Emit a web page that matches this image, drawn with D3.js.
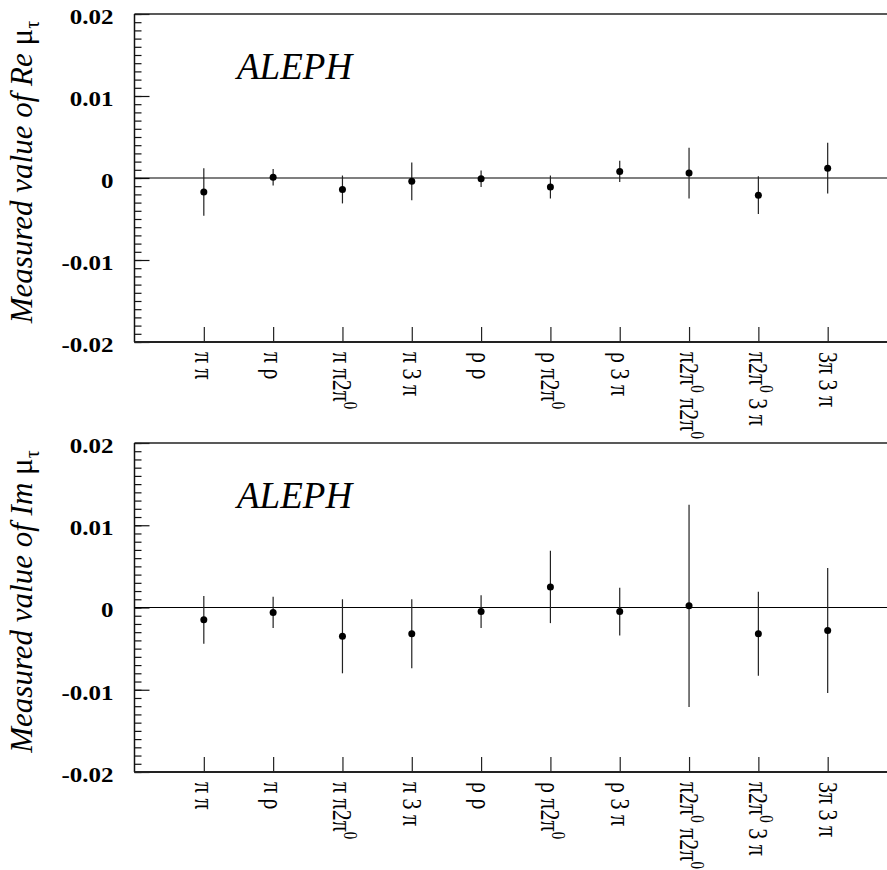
<!DOCTYPE html>
<html><head><meta charset="utf-8">
<script src="https://cdn.jsdelivr.net/npm/d3@7"></script>
<style>body{margin:0;background:#fff}svg{display:block}</style>
</head><body><svg id="c" width="887" height="870"></svg>
<script>
// ---- data ----
const categories = ["π π","π ρ","π π2π^0","π 3 π","ρ ρ","ρ π2π^0","ρ 3 π","π2π^0 π2π^0","π2π^0 3 π","3π 3 π"];
const reValues = [-0.0017, 0.0001, -0.0014, -0.0004, -0.0001, -0.0011, 0.0008, 0.0006, -0.0021, 0.0012];
const reErrors = [0.0029, 0.0010, 0.0017, 0.0023, 0.0010, 0.0014, 0.0013, 0.0031, 0.0023, 0.0031];
const imValues = [-0.0015, -0.0006, -0.0035, -0.0032, -0.0005, 0.0025, -0.0005, 0.0002, -0.0032, -0.0028];
const imErrors = [0.0029, 0.0019, 0.0045, 0.0042, 0.0020, 0.0044, 0.0029, 0.0123, 0.0051, 0.0076];
const majorTicks = [-0.02, -0.01, 0, 0.01, 0.02];
const tickLabels = ["-0.02", "-0.01", "0", "0.01", "0.02"];
const yDomain = [-0.02, 0.02];
const panelTitles = ["Re", "Im"];
const experiment = "ALEPH";

const svg = d3.select("#c");
const serif = "'Liberation Serif','Times New Roman',serif";
const left = 134.5, right = 897;
const x = d3.scalePoint().domain(categories).range([left, right]).padding(1);
const minorTicks = d3.range(-20, 21).map(d => d / 1000);

const panels = [
  {vals: reValues, errs: reErrors, top: 14, bottom: 342, title: panelTitles[0]},
  {vals: imValues, errs: imErrors, top: 443, bottom: 772, title: panelTitles[1]}
];

panels.forEach(p => {
  const y = d3.scaleLinear().domain(yDomain).range([p.bottom, p.top]);
  const g = svg.append("g");

  // minor ticks
  g.append("g").attr("transform", `translate(${left},0)`)
    .call(d3.axisLeft(y).tickValues(minorTicks).tickSize(-7).tickSizeOuter(0).tickFormat(""))
    .call(s => s.select(".domain").remove())
    .call(s => s.selectAll("line").attr("stroke", "#111").attr("stroke-width", 1.2));

  // major ticks + labels
  const ya = g.append("g").attr("transform", `translate(${left},0)`)
    .call(d3.axisLeft(y).tickValues(majorTicks).tickSize(-15).tickSizeOuter(0).tickPadding(21)
      .tickFormat((d, i) => tickLabels[i]))
    .call(s => s.select(".domain").remove())
    .call(s => s.selectAll("line").attr("stroke", "#111").attr("stroke-width", 1.2));
  ya.selectAll("text")
    .attr("font-family", serif).attr("font-weight", "bold").attr("font-size", 21)
    .attr("fill", "#000").attr("dy", "0.45em")
    .each(function() {
      const t = d3.select(this); const tx = +t.attr("x");
      t.attr("x", 0).attr("transform", `translate(${tx},0) scale(1.19,1)`);
    });

  // bottom ticks (upward)
  g.append("g").attr("transform", `translate(0,${p.bottom})`)
    .call(d3.axisBottom(x).tickSize(-15).tickSizeOuter(0).tickFormat(""))
    .call(s => s.select(".domain").remove())
    .call(s => s.selectAll("line").attr("stroke", "#222").attr("stroke-width", 1.2));

  // frame
  g.append("line").attr("x1", left).attr("x2", right).attr("y1", p.top).attr("y2", p.top)
    .attr("stroke", "#222").attr("stroke-width", 1.5);
  g.append("line").attr("x1", left).attr("x2", left).attr("y1", p.top).attr("y2", p.bottom)
    .attr("stroke", "#111").attr("stroke-width", 1.5);
  g.append("line").attr("x1", left).attr("x2", right).attr("y1", p.bottom).attr("y2", p.bottom)
    .attr("stroke", "#222").attr("stroke-width", 2);

  // zero line
  g.append("line").attr("x1", left).attr("x2", right).attr("y1", y(0)).attr("y2", y(0))
    .attr("stroke", "#000").attr("stroke-width", 1.2);

  // error bars
  g.selectAll(".eb").data(p.vals).join("line")
    .attr("x1", (d, i) => x(categories[i])).attr("x2", (d, i) => x(categories[i]))
    .attr("y1", (d, i) => y(d + p.errs[i])).attr("y2", (d, i) => y(d - p.errs[i]))
    .attr("stroke", "#222").attr("stroke-width", 1.2);
  g.selectAll(".pt").data(p.vals).join("circle")
    .attr("cx", (d, i) => x(categories[i])).attr("cy", d => y(d)).attr("r", 3.5).attr("fill", "#000");

  // x labels
  categories.forEach(c => {
    const t = g.append("text")
      .attr("transform", `translate(${x(c) - 9},${p.bottom + 10}) rotate(90) scale(1,1.2)`)
      .attr("font-family", serif).attr("font-size", 22).attr("fill", "#000");
    let prevSup = false;
    c.split(/(\^0)/).forEach(part => {
      if (part === "^0") { t.append("tspan").attr("dy", -9).attr("font-size", 15).text("0"); prevSup = true; }
      else if (part.length) {
        t.append("tspan").attr("dy", prevSup ? 9 : 0).text(part);
        prevSup = false;
      }
    });
  });

  // ALEPH
  g.append("text").attr("x", 237).attr("y", p.top + 65)
    .attr("font-family", serif).attr("font-style", "italic").attr("font-size", 37)
    .attr("fill", "#000").text(experiment);

  // y title
  const cy = (p.top + p.bottom) / 2 - 6;
  const yt = g.append("text").attr("transform", `translate(32,${cy}) rotate(-90)`)
    .attr("text-anchor", "middle").attr("font-family", serif).attr("font-size", 31).attr("fill", "#000");
  yt.append("tspan").attr("font-style", "italic").text(`Measured value of ${p.title} `);
  yt.append("tspan").text("μ");
  yt.append("tspan").attr("font-size", 20).attr("dy", 7).text("τ");
});
</script></body></html>
